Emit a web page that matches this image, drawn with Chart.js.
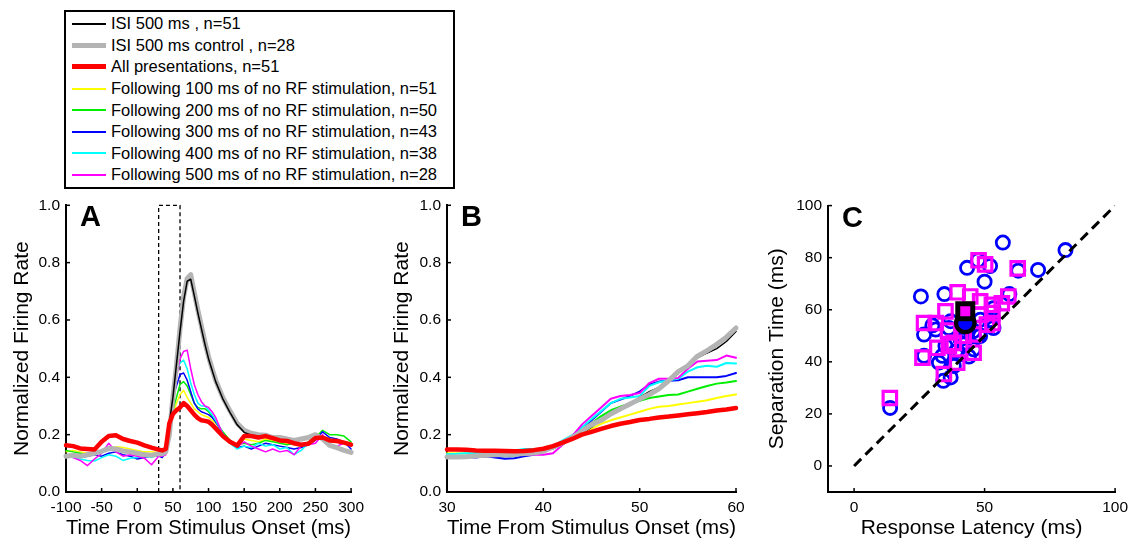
<!DOCTYPE html>
<html>
<head>
<meta charset="utf-8">
<script src="https://cdn.jsdelivr.net/npm/chart.js@4.4.0/dist/chart.umd.min.js"></script>
<style>
    body { margin: 0; background: #fff; font-family: "Liberation Sans", Arial, sans-serif; }
    #figura { position: relative; width: 1134px; height: 539px; overflow: hidden; background: #fff; }
    canvas { position: absolute; }
    #legenda {
        position: absolute; left: 64px; top: 10px; width: 391px; height: 179px;
        border: 2px solid #000; box-sizing: border-box; padding-top: 1px;
    }
    .linha { display: flex; align-items: center; height: 21.6px; }
    .amostra { width: 34px; margin-left: 6px; margin-right: 5px; }
    .texto { font-size: 16.5px; color: #000; white-space: nowrap; }
</style>
</head>
<body>
<div id="figura">
    <div id="legenda"></div>
    <canvas id="graficoA" width="370" height="349" style="left:0px;top:190px"></canvas>
    <canvas id="graficoB" width="390" height="349" style="left:370px;top:190px"></canvas>
    <canvas id="graficoC" width="374" height="349" style="left:760px;top:190px"></canvas>
</div>

<script>
// ---------- painel A (-100 a 300 ms) ----------
const tempoA = [-100,-90,-80,-70,-60,-50,-40,-30,-20,-10,0,10,20,30,
    35,40,45,50,55,60,65,70,75,80,85,90,95,100,105,110,
    120,130,140,150,160,170,180,190,200,210,220,230,240,250,260,270,280,290,300];

const todasApresentacoesA = [0.163,0.16,0.152,0.15,0.148,0.175,0.195,0.198,0.185,0.178,0.172,0.163,0.155,0.148,
    0.145,0.15,0.24,0.272,0.285,0.295,0.31,0.30,0.285,0.27,0.258,0.25,0.248,0.245,0.235,0.222,
    0.195,0.175,0.162,0.195,0.195,0.19,0.195,0.188,0.18,0.178,0.17,0.165,0.168,0.188,0.19,0.18,0.178,0.172,0.165];

const isi500A = [null,null,null,null,null,null,null,null,null,null,null,null,null,null,
    null,null,0.24,0.33,0.445,0.56,0.665,0.735,0.742,0.685,0.625,0.57,0.515,0.465,0.425,0.385,
    0.325,0.278,0.235,0.208,0.198,0.195,null,null,null,null,null,null,null,null,null,null,null,null,null];

const isi500ControleA = [0.125,0.128,0.125,0.13,0.135,0.142,0.152,0.15,0.143,0.14,0.135,0.13,0.128,0.133,
    0.133,0.14,0.2,0.33,0.44,0.57,0.68,0.745,0.758,0.695,0.635,0.578,0.522,0.472,0.43,0.39,
    0.33,0.283,0.24,0.215,0.205,0.2,0.198,0.19,0.19,0.185,0.18,0.185,0.19,0.2,0.185,0.163,0.155,0.145,0.138];

const seg100A = [0.14,0.145,0.14,0.135,0.14,0.145,0.15,0.158,0.155,0.15,0.145,0.14,0.14,0.138,
    0.135,0.145,0.2,0.27,0.31,0.34,0.355,0.33,0.31,0.29,0.28,0.27,0.265,0.26,0.25,0.24,
    0.21,0.18,0.16,0.185,0.18,0.175,0.185,0.18,0.175,0.17,0.165,0.16,0.17,0.185,0.19,0.185,0.18,0.175,0.17];

const seg200A = [0.145,0.14,0.135,0.13,0.138,0.14,0.148,0.145,0.14,0.135,0.13,0.135,0.13,0.128,
    0.13,0.14,0.2,0.285,0.33,0.375,0.385,0.37,0.34,0.31,0.295,0.29,0.29,0.28,0.265,0.245,
    0.21,0.18,0.165,0.17,0.165,0.17,0.18,0.175,0.17,0.165,0.17,0.16,0.175,0.19,0.215,0.2,0.2,0.195,0.175];

const seg300A = [0.13,0.125,0.12,0.125,0.13,0.125,0.135,0.14,0.13,0.125,0.115,0.12,0.125,0.125,
    0.12,0.14,0.22,0.33,0.37,0.41,0.415,0.39,0.35,0.31,0.29,0.28,0.275,0.27,0.26,0.245,
    0.205,0.175,0.155,0.16,0.15,0.16,0.17,0.165,0.16,0.155,0.15,0.155,0.165,0.18,0.21,0.19,0.185,0.175,0.15];

const seg400A = [0.125,0.12,0.115,0.11,0.108,0.12,0.13,0.125,0.11,0.118,0.12,0.125,0.12,0.13,
    0.14,0.15,0.225,0.335,0.42,0.45,0.46,0.43,0.38,0.34,0.31,0.3,0.3,0.285,0.27,0.25,
    0.205,0.17,0.15,0.16,0.155,0.17,0.16,0.165,0.15,0.155,0.13,0.145,0.17,0.19,0.195,0.185,0.18,0.175,0.165];

const seg500A = [0.13,0.12,0.11,0.092,0.115,0.135,0.17,0.14,0.125,0.13,0.125,0.118,0.095,0.125,
    0.125,0.13,0.22,0.33,0.4,0.465,0.49,0.495,0.43,0.375,0.34,0.315,0.3,0.295,0.28,0.26,
    0.2,0.175,0.157,0.175,0.16,0.15,0.14,0.15,0.14,0.145,0.13,0.16,0.165,0.17,0.2,0.165,0.16,0.17,0.16];

// janela tracejada (30-60 ms)
const janelaX = [30, 30, 60, 60];
const janelaY = [0, 1, 1, 0];

const ticksAx = [-100,-50,0,50,100,150,200,250,300];
const ticksAy = [0,0.2,0.4,0.6,0.8,1.0];

// ---------- painel B (30 a 60 ms) ----------
const tempoB = [30,31,32,33,34,35,36,37,38,39,40,41,42,43,44,45,46,47,48,49,50,51,52,53,54,55,56,57,58,59,60];

const todasApresentacoesB = [0.148,0.148,0.147,0.145,0.144,0.144,0.143,0.142,0.143,0.146,0.151,0.16,0.172,0.185,0.2,0.21,
    0.22,0.23,0.238,0.244,0.251,0.255,0.26,0.263,0.267,0.271,0.275,0.279,0.284,0.288,0.293];
const isi500B = [0.124,0.124,0.125,0.127,0.129,0.131,0.132,0.133,0.135,0.137,0.14,0.151,0.168,0.186,0.203,0.226,
    0.255,0.278,0.295,0.307,0.33,0.35,0.365,0.393,0.42,0.445,0.468,0.485,0.5,0.525,0.56];
const isi500ControleB = [0.122,0.122,0.123,0.126,0.128,0.13,0.131,0.132,0.134,0.136,0.142,0.157,0.172,0.19,0.212,0.235,
    0.25,0.272,0.29,0.307,0.324,0.34,0.36,0.388,0.42,0.44,0.474,0.493,0.515,0.54,0.572];
const seg100B = [0.135,0.135,0.134,0.133,0.132,0.132,0.133,0.135,0.137,0.14,0.145,0.155,0.17,0.185,0.203,0.22,
    0.238,0.25,0.26,0.27,0.28,0.29,0.297,0.3,0.305,0.31,0.315,0.32,0.328,0.335,0.34];
const seg200B = [0.125,0.125,0.126,0.127,0.128,0.126,0.125,0.127,0.13,0.135,0.142,0.155,0.172,0.19,0.212,0.24,
    0.265,0.285,0.298,0.308,0.318,0.328,0.333,0.338,0.34,0.35,0.36,0.37,0.378,0.382,0.387];
const seg300B = [0.13,0.125,0.122,0.12,0.125,0.12,0.116,0.118,0.125,0.13,0.14,0.155,0.175,0.195,0.225,0.25,
    0.28,0.31,0.322,0.335,0.35,0.375,0.385,0.388,0.39,0.4,0.4,0.4,0.4,0.405,0.415];
const seg400B = [0.132,0.133,0.135,0.136,0.138,0.138,0.14,0.145,0.15,0.15,0.15,0.16,0.18,0.198,0.225,0.255,
    0.282,0.31,0.325,0.33,0.335,0.37,0.383,0.39,0.395,0.42,0.435,0.44,0.437,0.45,0.448];
const seg500B = [0.125,0.125,0.126,0.128,0.128,0.13,0.13,0.13,0.13,0.13,0.13,0.135,0.165,0.195,0.235,0.265,
    0.295,0.325,0.335,0.338,0.345,0.38,0.395,0.395,0.398,0.43,0.455,0.458,0.46,0.476,0.468];

const ticksBx = [30,40,50,60];

// ---------- painel C (latencia x separacao) ----------
const latenciaCirculos = [13.8,25.6,34.6,57,81,70.5,43.3,52.1,50,47.5,59.5,62.9,53.4,53.4,48.3,42,33.8,45.8,26.8,38.2,
    37,34.2,32.5,35,26.8,31.3,37,36.3,30,40.8,40.8,47.7,45.8,52,48.4,37.6,42.6,44,39];
const separacaoCirculos = [22.3,65.1,66,85.8,82.9,75.3,76.1,76.8,70.8,79,66,75,60.6,53,49.9,46.7,42.3,44.8,42.3,38.4,
    34,32.7,39.7,46.1,50.5,52.4,55.6,53,54,42.9,48.6,50.5,51.8,56,56.2,46.7,52,42,44];

const latenciaQuadrados = [13.7,47.7,50.2,62.7,39.7,44.5,48.3,59.1,52.8,35,26.8,31.3,48.3,50.9,56.6,45.8,38.2,31.9,
    36.3,45.8,26.2,39.5,34.4,53,53,42,36];
const separacaoQuadrados = [26.1,79,77.4,75.9,66.7,65.1,63.2,65.1,61.9,59.4,54.9,54.9,58.1,54.3,62.5,50.5,47.3,45.4,
    46.1,43.5,41.6,39.7,35.3,54.9,58.7,50,52];

const latenciaMedia = [42.6];
const separacaoMediaCirculo = [54.9];
const separacaoMediaQuadrado = [59.4];

const diagonalX = [0, 100];
const diagonalY = [0, 100];

const ticksCx = [0,50,100];
const ticksCy = [0,20,40,60,80,100];

// ---------- legenda ----------
const legendaTextos = [
    'ISI 500 ms , n=51',
    'ISI 500 ms control , n=28',
    'All presentations, n=51',
    'Following 100 ms of no RF stimulation, n=51',
    'Following 200 ms of no RF stimulation, n=50',
    'Following 300 ms of no RF stimulation, n=43',
    'Following 400 ms of no RF stimulation, n=38',
    'Following 500 ms of no RF stimulation, n=28'
];

// estilos das series (mesma ordem da legenda)
const cores = ['#000000', '#b4b4b4', '#ff0000', '#ffff00', '#00ee00', '#0000ff', '#00ffff', '#ff00ff'];
const espessuraLegenda = [2, 5, 5, 2, 2, 2, 2, 2];

const fonte = '"Liberation Sans", Arial, sans-serif';
Chart.defaults.font.family = fonte;
Chart.defaults.color = '#000';

function montarLegenda() {
    const caixa = document.getElementById('legenda');
    legendaTextos.forEach(function (texto, i) {
        caixa.innerHTML += `
            <div class="linha">
                <div class="amostra" style="height:${espessuraLegenda[i]}px;background:${cores[i]}"></div>
                <span class="texto">${texto}</span>
            </div>`;
    });
}

function pontos(xs, ys) {
    return xs.map(function (x, i) { return { x: x, y: ys[i] }; });
}

// eixo estilo matlab: ticks para dentro + letra do painel
const eixosMatlab = {
    id: 'eixosMatlab',
    afterDraw(chart, args, opts) {
        const ctx = chart.ctx;
        const area = chart.chartArea;
        const sx = chart.scales.x;
        const sy = chart.scales.y;
        ctx.save();
        ctx.strokeStyle = '#000';
        ctx.lineWidth = 1.5;
        sx.ticks.forEach(function (t) {
            const px = sx.getPixelForValue(t.value);
            ctx.beginPath();
            ctx.moveTo(px, area.bottom);
            ctx.lineTo(px, area.bottom - 4);
            ctx.stroke();
        });
        sy.ticks.forEach(function (t) {
            const py = sy.getPixelForValue(t.value);
            ctx.beginPath();
            ctx.moveTo(area.left, py);
            ctx.lineTo(area.left + 4, py);
            ctx.stroke();
        });
        ctx.fillStyle = '#000';
        ctx.font = 'bold 29px ' + fonte;
        ctx.textBaseline = 'alphabetic';
        ctx.textAlign = 'left';
        ctx.fillText(opts.letra, area.left + 14, area.top + 21);
        ctx.restore();
    }
};

function escalaX(min, max, ticks, titulo, altura) {
    return {
        type: 'linear', min: min, max: max,
        afterBuildTicks: function (s) { s.ticks = ticks.map(function (v) { return { value: v }; }); },
        afterFit: function (s) { s.height = altura; },
        grid: { display: false, drawTicks: false },
        border: { display: true, color: '#000', width: 2 },
        ticks: { font: { size: 15.5 }, padding: 6, maxRotation: 0, autoSkip: false },
        title: { display: true, text: titulo, font: { size: 21, lineHeight: 1.0 }, padding: { top: 0, bottom: 0 } }
    };
}

function escalaY(min, max, ticks, titulo, largura, padTitulo, formato) {
    return {
        type: 'linear', min: min, max: max,
        afterBuildTicks: function (s) { s.ticks = ticks.map(function (v) { return { value: v }; }); },
        afterFit: function (s) { s.width = largura; },
        grid: { display: false, drawTicks: false },
        border: { display: true, color: '#000', width: 2 },
        ticks: { font: { size: 15.5 }, padding: 6, autoSkip: false, callback: formato },
        title: { display: true, text: titulo, font: { size: 21, lineHeight: 1.2 }, padding: { top: padTitulo, bottom: 0 } }
    };
}

function serie(xs, ys, cor, largura, ordem) {
    return {
        data: pontos(xs, ys),
        borderColor: cor,
        borderWidth: largura,
        pointRadius: 0,
        tension: 0,
        borderJoinStyle: 'round',
        borderCapStyle: 'round',
        clip: false,
        order: ordem
    };
}

function plotarGraficoA() {
    const dados = {
        datasets: [
            serie(tempoA, todasApresentacoesA, cores[2], 4.5, 1),
            serie(tempoA, isi500A, cores[0], 1.5, 2),
            serie(tempoA, isi500ControleA, cores[1], 5, 3),
            serie(tempoA, seg500A, cores[7], 1.5, 4),
            serie(tempoA, seg400A, cores[6], 1.5, 5),
            serie(tempoA, seg300A, cores[5], 1.5, 6),
            serie(tempoA, seg200A, cores[4], 1.5, 7),
            serie(tempoA, seg100A, cores[3], 1.5, 8),
            Object.assign(serie(janelaX, janelaY, '#000', 1.3, 9), { borderDash: [4, 3], borderCapStyle: 'butt' })
        ]
    };
    new Chart(document.getElementById('graficoA'), {
        type: 'line',
        data: dados,
        options: {
            responsive: false,
            animation: false,
            layout: { padding: { top: 13, right: 17, left: 0, bottom: 0 } },
            plugins: { legend: { display: false }, tooltip: { enabled: false }, eixosMatlab: { letra: 'A' } },
            scales: {
                x: escalaX(-100, 300, ticksAx, 'Time From Stimulus Onset (ms)', 47),
                y: escalaY(0, 1, ticksAy, 'Normalized Firing Rate', 66, 10, function (v) { return v.toFixed(1); })
            }
        },
        plugins: [eixosMatlab]
    });
}

function plotarGraficoB() {
    const dados = {
        datasets: [
            serie(tempoB, todasApresentacoesB, cores[2], 4.5, 1),
            serie(tempoB, isi500ControleB, cores[1], 5, 2),
            serie(tempoB, isi500B, cores[0], 1.5, 3),
            serie(tempoB, seg500B, cores[7], 2, 4),
            serie(tempoB, seg400B, cores[6], 2, 5),
            serie(tempoB, seg300B, cores[5], 2, 6),
            serie(tempoB, seg200B, cores[4], 2, 7),
            serie(tempoB, seg100B, cores[3], 2, 8)
        ]
    };
    new Chart(document.getElementById('graficoB'), {
        type: 'line',
        data: dados,
        options: {
            responsive: false,
            animation: false,
            layout: { padding: { top: 13, right: 24, left: 0, bottom: 0 } },
            plugins: { legend: { display: false }, tooltip: { enabled: false }, eixosMatlab: { letra: 'B' } },
            scales: {
                x: escalaX(30, 60, ticksBx, 'Time From Stimulus Onset (ms)', 47),
                y: escalaY(0, 1, ticksAy, 'Normalized Firing Rate', 77, 20, function (v) { return v.toFixed(1); })
            }
        },
        plugins: [eixosMatlab]
    });
}

function plotarGraficoC() {
    const dados = {
        datasets: [
            {
                data: pontos(latenciaMedia, separacaoMediaQuadrado),
                pointStyle: 'rect', pointRadius: 10.6, borderWidth: 5,
                borderColor: '#000', backgroundColor: '#ff00ff', order: 1
            },
            {
                data: pontos(latenciaMedia, separacaoMediaCirculo),
                pointStyle: 'circle', pointRadius: 9.2, borderWidth: 4.3,
                borderColor: '#000', backgroundColor: '#0000ff', order: 2
            },
            {
                data: pontos(diagonalX, diagonalY),
                showLine: true, pointRadius: 0, borderWidth: 3,
                borderColor: '#000', borderDash: [10, 6], order: 3
            },
            {
                data: pontos(latenciaQuadrados, separacaoQuadrados),
                pointStyle: 'rect', pointRadius: 9.5, borderWidth: 3.2,
                borderColor: '#ff00ff', backgroundColor: 'rgba(0,0,0,0)', order: 4
            },
            {
                data: pontos(latenciaCirculos, separacaoCirculos),
                pointStyle: 'circle', pointRadius: 6.6, borderWidth: 2.8,
                borderColor: '#0000ff', backgroundColor: 'rgba(0,0,0,0)', order: 5
            }
        ]
    };
    new Chart(document.getElementById('graficoC'), {
        type: 'scatter',
        data: dados,
        options: {
            responsive: false,
            animation: false,
            layout: { padding: { top: 13, right: 17, left: 0, bottom: 0 } },
            plugins: { legend: { display: false }, tooltip: { enabled: false }, eixosMatlab: { letra: 'C' } },
            scales: {
                x: escalaX(-10, 100, ticksCx, 'Response Latency (ms)', 47),
                y: escalaY(-10, 100, ticksCy, 'Separation Time (ms)', 68, 5, function (v) { return v; })
            }
        },
        plugins: [eixosMatlab]
    });
}

montarLegenda();
plotarGraficoA();
plotarGraficoB();
plotarGraficoC();
</script>
</body>
</html>
